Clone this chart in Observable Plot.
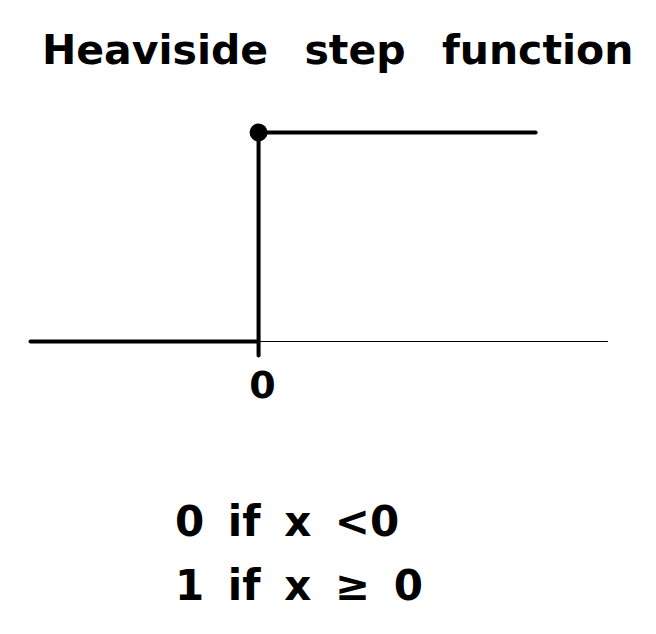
<!DOCTYPE html>
<html>
<head>
<meta charset="utf-8">
<script src="https://cdn.jsdelivr.net/npm/d3@7"></script>
<script src="https://cdn.jsdelivr.net/npm/@observablehq/plot@0.6"></script>
<style>
  html, body { margin: 0; padding: 0; background: #fff; }
  body { width: 656px; font-family: "DejaVu Sans", sans-serif; color: #000; }
  #title { height: 100px; line-height: 100px; white-space: nowrap; padding-left: 42px; font-size: 41px; font-weight: bold; word-spacing: 22px; }
  #chart { height: 320px; }
  #formula { padding-left: 175px; font-size: 42px; font-weight: bold; line-height: 64px; margin-top: 70px; word-spacing: 9px; }
</style>
</head>
<body>
<div id="title">Heaviside step function</div>
<div id="chart"></div>
<div id="formula"></div>
<script>
const title = "Heaviside step function";
const xDomain = [-1, 1.53];
const yDomain = [0, 1];
const axisX = [-1, 1.53];
const axisY = [0, 0];
const lowX = [-1, 0];
const lowY = [0, 0];
const highX = [0, 1.215];
const highY = [1, 1];
const jumpX = [0, 0];
const jumpY = [-0.067, 1];
const dotX = [0];
const dotY = [1];
const tickValues = [0];
const tickLabels = ["0"];
const formulaLines = ["0 if x <0", "1 if x ≥ 0"];

const pts = (xs, ys) => xs.map((x, i) => ({x, y: ys[i]}));

const plot = Plot.plot({
  width: 656,
  height: 320,
  margin: 0,
  x: {domain: xDomain, range: [30, 607], axis: null},
  y: {domain: yDomain, range: [241, 32], axis: null},
  marks: [
    Plot.line(pts(axisX, axisY), {x: "x", y: "y", stroke: "#000", strokeWidth: 1.2}),
    Plot.line(pts(lowX, lowY), {x: "x", y: "y", stroke: "#000", strokeWidth: 4, strokeLinecap: "round"}),
    Plot.line(pts(jumpX, jumpY), {x: "x", y: "y", stroke: "#000", strokeWidth: 4, strokeLinecap: "round"}),
    Plot.line(pts(highX, highY), {x: "x", y: "y", stroke: "#000", strokeWidth: 4, strokeLinecap: "round"}),
    Plot.dot(pts(dotX, dotY), {x: "x", y: "y", r: 9, fill: "#000", stroke: "none"}),
    Plot.text(tickValues.map((v, i) => ({x: v, label: tickLabels[i]})), {x: "x", y: () => -0.21, text: "label", fontSize: 38, fontWeight: "bold", dx: 4, fill: "#000", fontFamily: "DejaVu Sans"})
  ]
});
document.getElementById("chart").appendChild(plot);
document.getElementById("formula").innerHTML = formulaLines.map(s => `<div>${s}</div>`).join("");
</script>
</body>
</html>
